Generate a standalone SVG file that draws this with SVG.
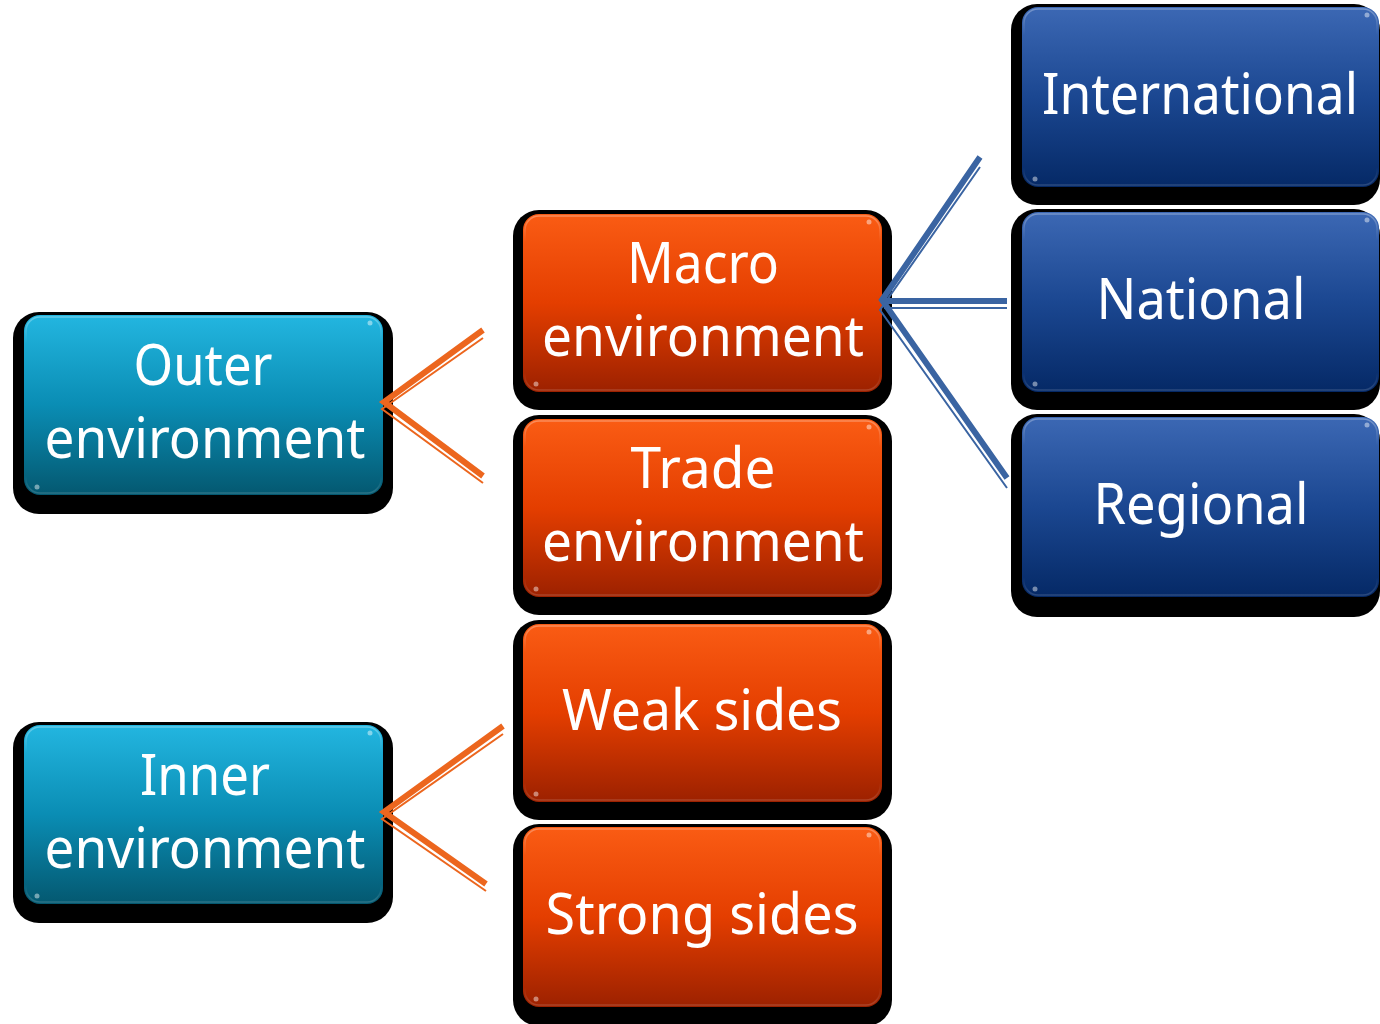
<svg xmlns="http://www.w3.org/2000/svg" width="1380" height="1024" viewBox="0 0 1380 1024">
<defs>
<linearGradient id="gTeal" x1="0" y1="0" x2="0" y2="1">
<stop offset="0" stop-color="#23B6E0"/>
<stop offset="0.5" stop-color="#0A8DB4"/>
<stop offset="1" stop-color="#045870"/>
</linearGradient>
<linearGradient id="gOrange" x1="0" y1="0" x2="0" y2="1">
<stop offset="0" stop-color="#FA5C14"/>
<stop offset="0.5" stop-color="#E43E00"/>
<stop offset="1" stop-color="#9C2100"/>
</linearGradient>
<linearGradient id="gBlue" x1="0" y1="0" x2="0" y2="1">
<stop offset="0" stop-color="#3C68B4"/>
<stop offset="0.5" stop-color="#1B4791"/>
<stop offset="1" stop-color="#052966"/>
</linearGradient>
<linearGradient id="gRim" x1="0" y1="0" x2="0" y2="1">
<stop offset="0" stop-color="#ffffff" stop-opacity="0.3"/>
<stop offset="0.15" stop-color="#ffffff" stop-opacity="0"/>
<stop offset="0.9" stop-color="#ffffff" stop-opacity="0"/>
<stop offset="1" stop-color="#ffffff" stop-opacity="0.15"/>
</linearGradient>
</defs>
<style>
.shadow{fill:#000}
.teal{fill:url(#gTeal)}
.orange{fill:url(#gOrange)}
.blue{fill:url(#gBlue)}
.rim{fill:none;stroke:url(#gRim);stroke-width:1.5}
.dot{fill:#ffffff;fill-opacity:0.45}
.lbl{font-family:"Noto Sans","DejaVu Sans","Liberation Sans",sans-serif;font-size:56px;fill:#ffffff;text-anchor:middle}
.oT{fill:none;stroke:#EC661E;stroke-width:6;stroke-linejoin:miter;stroke-miterlimit:10}
.ot{fill:none;stroke:#EC661E;stroke-width:2}
.bT{fill:none;stroke:#3A64A2;stroke-width:6;stroke-linejoin:miter;stroke-miterlimit:10}
.bt{fill:none;stroke:#3A64A2;stroke-width:2}
</style>

<g id="outer">
<rect class="shadow" x="13" y="312" width="380" height="202" rx="26"/>
<rect class="teal" x="24" y="315" width="359" height="180" rx="16"/>
<rect class="rim" x="26" y="317" width="355" height="176" rx="14"/>
<circle class="dot" cx="370" cy="323" r="2.5"/><circle class="dot" cx="37" cy="487" r="2.5"/>
<text class="lbl" x="203" y="385" textLength="139" lengthAdjust="spacingAndGlyphs">Outer</text>
<text class="lbl" x="205" y="458" textLength="321" lengthAdjust="spacingAndGlyphs">environment</text>
</g>

<g id="inner">
<rect class="shadow" x="13" y="722" width="380" height="201" rx="26"/>
<rect class="teal" x="24" y="725" width="359" height="179" rx="16"/>
<rect class="rim" x="26" y="727" width="355" height="175" rx="14"/>
<circle class="dot" cx="370" cy="733" r="2.5"/><circle class="dot" cx="37" cy="896" r="2.5"/>
<text class="lbl" x="205" y="795" textLength="130" lengthAdjust="spacingAndGlyphs">Inner</text>
<text class="lbl" x="205" y="868" textLength="321" lengthAdjust="spacingAndGlyphs">environment</text>
</g>

<g id="macro">
<rect class="shadow" x="513" y="210" width="379" height="200" rx="26"/>
<rect class="orange" x="523" y="214" width="359" height="178" rx="16"/>
<rect class="rim" x="525" y="216" width="355" height="174" rx="14"/>
<circle class="dot" cx="869" cy="222" r="2.5"/><circle class="dot" cx="536" cy="384" r="2.5"/>
<text class="lbl" x="703" y="283" textLength="152" lengthAdjust="spacingAndGlyphs">Macro</text>
<text class="lbl" x="703" y="356" textLength="322" lengthAdjust="spacingAndGlyphs">environment</text>
</g>

<g id="trade">
<rect class="shadow" x="513" y="415" width="379" height="200" rx="26"/>
<rect class="orange" x="523" y="419" width="359" height="178" rx="16"/>
<rect class="rim" x="525" y="421" width="355" height="174" rx="14"/>
<circle class="dot" cx="869" cy="427" r="2.5"/><circle class="dot" cx="536" cy="589" r="2.5"/>
<text class="lbl" x="703" y="488" textLength="145" lengthAdjust="spacingAndGlyphs">Trade</text>
<text class="lbl" x="703" y="561" textLength="322" lengthAdjust="spacingAndGlyphs">environment</text>
</g>

<g id="weak">
<rect class="shadow" x="513" y="620" width="379" height="200" rx="26"/>
<rect class="orange" x="523" y="624" width="359" height="178" rx="16"/>
<rect class="rim" x="525" y="626" width="355" height="174" rx="14"/>
<circle class="dot" cx="869" cy="632" r="2.5"/><circle class="dot" cx="536" cy="794" r="2.5"/>
<text class="lbl" x="702" y="730" textLength="280" lengthAdjust="spacingAndGlyphs">Weak sides</text>
</g>

<g id="strong">
<rect class="shadow" x="513" y="824" width="379" height="202" rx="26"/>
<rect class="orange" x="523" y="827" width="359" height="180" rx="16"/>
<rect class="rim" x="525" y="829" width="355" height="176" rx="14"/>
<circle class="dot" cx="869" cy="835" r="2.5"/><circle class="dot" cx="536" cy="999" r="2.5"/>
<text class="lbl" x="702" y="934" textLength="313" lengthAdjust="spacingAndGlyphs">Strong sides</text>
</g>

<g id="international">
<rect class="shadow" x="1011" y="4" width="369" height="201" rx="26"/>
<rect class="blue" x="1022" y="7" width="357" height="180" rx="16"/>
<rect class="rim" x="1024" y="9" width="353" height="176" rx="14"/>
<circle class="dot" cx="1367" cy="15" r="2.5"/><circle class="dot" cx="1035" cy="179" r="2.5"/>
<text class="lbl" x="1200" y="114" font-size="54" textLength="316" lengthAdjust="spacingAndGlyphs">International</text>
</g>

<g id="national">
<rect class="shadow" x="1011" y="209" width="369" height="201" rx="26"/>
<rect class="blue" x="1022" y="212" width="357" height="180" rx="16"/>
<rect class="rim" x="1024" y="214" width="353" height="176" rx="14"/>
<circle class="dot" cx="1367" cy="220" r="2.5"/><circle class="dot" cx="1035" cy="384" r="2.5"/>
<text class="lbl" x="1201" y="319" textLength="209" lengthAdjust="spacingAndGlyphs">National</text>
</g>

<g id="regional">
<rect class="shadow" x="1011" y="414" width="369" height="203" rx="26"/>
<rect class="blue" x="1022" y="417" width="357" height="180" rx="16"/>
<rect class="rim" x="1024" y="419" width="353" height="176" rx="14"/>
<circle class="dot" cx="1367" cy="425" r="2.5"/><circle class="dot" cx="1035" cy="589" r="2.5"/>
<text class="lbl" x="1201" y="524" textLength="215" lengthAdjust="spacingAndGlyphs">Regional</text>
</g>

<g id="connectors">
<polyline class="oT" points="483,330 384,402 483,476"/>
<polyline class="ot" points="483,338 382,409 483,483"/>
<polyline class="oT" points="503,726 384,812 486,884"/>
<polyline class="ot" points="503,734 382,819 486,891"/>
<polyline class="bT" points="980,157 882,300 1007,478"/>
<polyline class="bt" points="980,167 880,310 1007,488"/>
<line class="bT" x1="882" y1="301" x2="1007" y2="301"/>
<line class="bt" x1="884" y1="308" x2="1007" y2="308"/>
</g>
</svg>
